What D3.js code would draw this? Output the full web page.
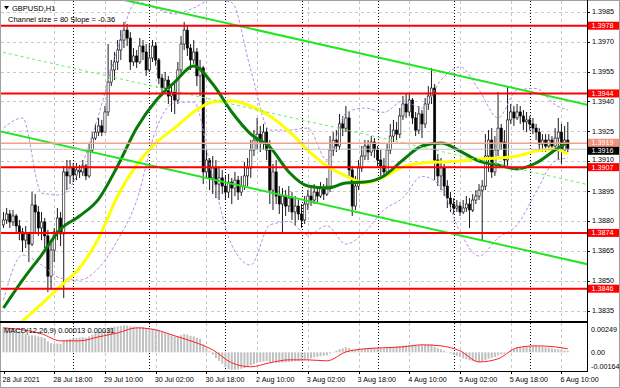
<!DOCTYPE html>
<html>
<head>
<meta charset="utf-8">
<script src="https://cdn.jsdelivr.net/npm/d3@7"></script>
<style>
body { margin: 0; background: #fff; }
svg { display: block; font-family: "Liberation Sans", Arial, sans-serif; }
</style>
</head>
<body>
<div id="chart"></div>
<script>
// GBPUSD H1 bars, 28 Jul 02:00 .. 6 Aug 12:00
var firstOpen = 1.38780;
var closes = [1.38805,1.38835,1.38795,1.38825,1.38775,1.38745,1.38704,1.38735,1.38684,1.38880,
	1.38845,1.38765,1.38795,1.38725,1.38523,1.38654,1.38745,1.38815,1.38735,1.39046,
	1.39026,1.39066,1.39031,1.39056,1.39046,1.39076,1.39026,1.39156,1.39216,1.39246,
	1.39277,1.39246,1.39347,1.39497,1.39558,1.39598,1.39658,1.39708,1.39758,1.39718,
	1.39598,1.39628,1.39598,1.39678,1.39648,1.39558,1.39618,1.39678,1.39608,1.39517,
	1.39467,1.39507,1.39427,1.39447,1.39407,1.39558,1.39688,1.39758,1.39668,1.39608,
	1.39648,1.39528,1.39568,1.39046,1.39106,1.39016,1.39066,1.38985,1.39016,1.38975,
	1.38945,1.38995,1.38965,1.39005,1.38945,1.38975,1.39026,1.39066,1.39156,1.39206,
	1.39236,1.39196,1.39246,1.39156,1.38955,1.39046,1.38925,1.38885,1.38925,1.38875,
	1.38915,1.38845,1.38875,1.38835,1.38805,1.38885,1.38925,1.38905,1.38945,1.38925,
	1.38965,1.38935,1.38975,1.39156,1.39206,1.39176,1.39287,1.39266,1.39317,1.39056,
	1.38875,1.38975,1.39066,1.39126,1.39176,1.39146,1.39196,1.39156,1.39106,1.39076,
	1.39046,1.39156,1.39226,1.39256,1.39236,1.39327,1.39387,1.39347,1.39407,1.39317,
	1.39256,1.39337,1.39287,1.39387,1.39427,1.39467,1.39106,1.39026,1.39066,1.38975,
	1.38915,1.38885,1.38865,1.38875,1.38845,1.38865,1.38885,1.38855,1.38905,1.38925,
	1.38955,1.38975,1.39126,1.39206,1.39046,1.39156,1.39266,1.39196,1.39106,1.39307,
	1.39347,1.39317,1.39347,1.39327,1.39297,1.39307,1.39287,1.39266,1.39246,1.39186,
	1.39206,1.39176,1.39206,1.39176,1.39216,1.39246,1.39156,1.39206,1.39161];
var highs = [1.38845,1.38865,1.38855,1.38855,1.38835,1.38805,1.38765,1.38775,1.38745,1.38945,
	1.38935,1.38875,1.38845,1.38815,1.38755,1.38704,1.38765,1.38865,1.38845,1.39076,
	1.39106,1.39106,1.39091,1.39091,1.39081,1.39106,1.39086,1.39186,1.39246,1.39287,
	1.39317,1.39307,1.39377,1.39688,1.39608,1.39648,1.39708,1.39758,1.39799,1.39789,
	1.39748,1.39668,1.39658,1.39718,1.39708,1.39688,1.39688,1.39708,1.39698,1.39618,
	1.39538,1.39548,1.39528,1.39487,1.39487,1.39598,1.39728,1.39799,1.39778,1.39688,
	1.39708,1.39668,1.39608,1.39578,1.39156,1.39116,1.39126,1.39106,1.39066,1.39056,
	1.39026,1.39036,1.39016,1.39046,1.39026,1.39026,1.39096,1.39116,1.39206,1.39256,
	1.39317,1.39277,1.39287,1.39266,1.39206,1.39086,1.39106,1.38975,1.38965,1.38955,
	1.38975,1.38945,1.38925,1.38905,1.38885,1.38925,1.38955,1.38965,1.38985,1.38975,
	1.38995,1.38985,1.39016,1.39226,1.39246,1.39256,1.39337,1.39327,1.39377,1.39347,
	1.39076,1.39026,1.39106,1.39176,1.39206,1.39206,1.39226,1.39216,1.39176,1.39156,
	1.39116,1.39186,1.39287,1.39307,1.39297,1.39367,1.39427,1.39437,1.39437,1.39417,
	1.39347,1.39377,1.39357,1.39417,1.39477,1.39568,1.39487,1.39136,1.39116,1.39086,
	1.39005,1.38945,1.38915,1.38905,1.38895,1.38905,1.38925,1.38915,1.38935,1.38955,
	1.38985,1.39005,1.39236,1.39256,1.39266,1.39226,1.39447,1.39287,1.39256,1.39477,
	1.39387,1.39377,1.39387,1.39377,1.39357,1.39347,1.39327,1.39317,1.39287,1.39266,
	1.39236,1.39236,1.39236,1.39226,1.39266,1.39317,1.39287,1.39277,1.39297];
var lows = [1.38765,1.38785,1.38765,1.38775,1.38745,1.38704,1.38644,1.38664,1.38594,1.38674,
	1.38745,1.38725,1.38704,1.38664,1.38443,1.38453,1.38594,1.38704,1.38674,1.38413,
	1.38955,1.38985,1.38995,1.39005,1.39016,1.39026,1.39005,1.39016,1.39146,1.39206,
	1.39226,1.39226,1.39266,1.39327,1.39477,1.39507,1.39558,1.39608,1.39668,1.39678,
	1.39558,1.39578,1.39568,1.39588,1.39608,1.39528,1.39548,1.39598,1.39578,1.39487,
	1.39427,1.39447,1.39387,1.39347,1.39337,1.39387,1.39538,1.39658,1.39628,1.39558,
	1.39588,1.39477,1.39427,1.38985,1.39016,1.38955,1.38935,1.38915,1.38905,1.38935,
	1.38905,1.38915,1.38885,1.38925,1.38905,1.38925,1.38955,1.38975,1.39016,1.39126,
	1.39156,1.39146,1.39156,1.39106,1.38885,1.38855,1.38885,1.38835,1.38745,1.38825,
	1.38845,1.38805,1.38775,1.38805,1.38765,1.38785,1.38855,1.38875,1.38885,1.38895,
	1.38915,1.38905,1.38925,1.38945,1.39126,1.39146,1.39156,1.39226,1.39246,1.39026,
	1.38825,1.38855,1.38955,1.39046,1.39106,1.39106,1.39126,1.39116,1.39066,1.39026,
	1.39016,1.39026,1.39136,1.39196,1.39206,1.39216,1.39307,1.39317,1.39327,1.39287,
	1.39226,1.39236,1.39216,1.39266,1.39357,1.39387,1.39005,1.38975,1.38955,1.38925,
	1.38865,1.38845,1.38835,1.38845,1.38825,1.38835,1.38845,1.38765,1.38845,1.38885,
	1.38905,1.38704,1.38955,1.39046,1.39016,1.39026,1.39126,1.39156,1.39066,1.39076,
	1.39287,1.39277,1.39307,1.39287,1.39256,1.39246,1.39256,1.39236,1.39206,1.39156,
	1.39146,1.39146,1.39156,1.39136,1.39156,1.39106,1.39086,1.39146,1.39146];

// indicator curves read every 6 bars (last point at bar 178)
var sampleIdx = [0,6,12,18,24,30,36,42,48,54,60,66,72,78,84,90,96,102,108,114,120,126,132,138,144,150,156,162,168,174,178];
var maGreen = [1.38363,1.38503,1.38629,1.38759,1.38825,1.38910,1.39076,1.39266,1.39402,1.39497,
	1.39578,1.39487,1.39347,1.39236,1.39171,1.39046,1.38975,1.38965,1.38990,1.38995,
	1.39026,1.39106,1.39176,1.39191,1.39151,1.39101,1.39081,1.39061,1.39091,1.39156,1.39196];
var maYellow = [1.38227,1.38298,1.38383,1.38473,1.38564,1.38714,1.38925,1.39081,1.39191,1.39266,
	1.39347,1.39397,1.39402,1.39377,1.39327,1.39251,1.39156,1.39076,1.39026,1.38990,
	1.39021,1.39071,1.39091,1.39096,1.39101,1.39111,1.39116,1.39126,1.39151,1.39161,1.39136];
// Bollinger bands (purple dashed)
var bandUpper = [1.39266,1.39317,1.38940,1.38930,1.39056,1.39332,1.39668,1.39899,1.39868,1.39839,
	1.39869,1.39912,1.39896,1.39558,1.39256,1.39256,1.39266,1.39106,1.39342,1.39367,
	1.39345,1.39402,1.39367,1.39507,1.39573,1.39457,1.39317,1.39457,1.39465,1.39383,1.39357];
var bandLower = [1.38403,1.38629,1.38579,1.38513,1.38503,1.38564,1.38704,1.38902,1.39254,1.39394,
	1.39397,1.39020,1.38679,1.38579,1.38780,1.38797,1.38729,1.38776,1.38684,1.38745,
	1.38855,1.38916,1.39024,1.38970,1.38745,1.38624,1.38715,1.38780,1.38945,1.39101,1.39116];

// MACD(12,26,9) main value per bar, in units of 0.00001
var macdMain = [222,218,212,205,196,185,172,160,148,150,
	148,140,135,125,95,80,75,78,72,100,
	112,120,122,125,130,132,128,140,155,168,
	180,185,195,210,218,225,228,232,236,235,
	228,225,222,224,222,212,208,206,200,190,
	178,172,160,150,138,140,150,160,155,145,
	140,128,120,70,40,10,-20,-50,-75,-100,
	-130,-150,-155,-152,-150,-145,-138,-128,-115,-102,
	-92,-86,-80,-78,-88,-86,-90,-92,-90,-88,
	-84,-82,-78,-76,-74,-66,-58,-52,-46,-40,
	-34,-30,-26,-10,4,14,28,36,44,38,
	24,20,22,28,34,36,40,40,38,36,
	34,38,44,48,52,56,60,62,64,62,
	60,62,62,64,68,70,50,36,26,14,
	2,-10,-22,-32,-42,-52,-62,-70,-78,-82,
	-84,-82,-68,-56,-50,-40,-26,-18,-14,2,
	16,26,36,44,48,52,54,56,56,52,
	48,44,40,36,30,26,22,16,13];
var macdSignal = [215,198,163,101,101,136,171,215,198,145,
	92,22,-92,-127,-92,-66,-66,-75,4,31,
	40,48,66,57,13,-84,-57,40,57,48,31];

var priceTicks = [1.3985,1.3970,1.3955,1.3940,1.3925,1.3910,1.3895,1.3880,1.3865,1.3850,1.3835];
var levels = [1.3978,1.3944,1.3907,1.3874,1.3846];
var askLine = 1.3919, bidLine = 1.3916;
var channelStart = 1.39646, channelSlope = -0.36, channelSize = 80;   // pips
var timeTickIdx = [0,16,32,48,64,80,96,112,128,144,160,176];
var timeLabels = ["28 Jul 2021","28 Jul 18:00","29 Jul 10:00","30 Jul 02:00","30 Jul 18:00","2 Aug 10:00",
	"3 Aug 02:00","3 Aug 18:00","4 Aug 10:00","5 Aug 02:00","5 Aug 18:00","6 Aug 10:00"];
var dayStartIdx = [22,46,70,94,118,142,166];

var width = 620, height = 388;
var plotLeft = 1, plotRight = 587, plotTop = 1, plotBottom = 321;
var macdTop = 323, macdBottom = 371;

var svg = d3.select("#chart").append("svg")
	.attr("width", width)
	.attr("height", height);

var x = d3.scaleLinear().domain([0, 178]).range([3.5, 567.8]);
var y = d3.scaleLinear().domain([1.3846, 1.3978]).range([288.7, 25.7]);
var ym = d3.scaleLinear().domain([-0.00164, 0.00249]).range([macdBottom, macdTop + 1]);

var defs = svg.append("defs");
defs.append("clipPath").attr("id", "clipMain").append("rect")
	.attr("x", plotLeft).attr("y", plotTop).attr("width", plotRight - plotLeft).attr("height", plotBottom - plotTop);
defs.append("clipPath").attr("id", "clipMacd").append("rect")
	.attr("x", plotLeft).attr("y", macdTop).attr("width", plotRight - plotLeft).attr("height", macdBottom - macdTop);

var main = svg.append("g").attr("clip-path", "url(#clipMain)");
var sub = svg.append("g").attr("clip-path", "url(#clipMacd)");

// grid
main.selectAll(".hgrid").data(priceTicks).enter().append("line")
	.attr("x1", plotLeft).attr("x2", plotRight)
	.attr("y1", function(d) { return Math.round(y(d)) + 0.5; })
	.attr("y2", function(d) { return Math.round(y(d)) + 0.5; })
	.attr("stroke", "#c8c8c8").attr("stroke-dasharray", "3,3");

[main, sub].forEach(function(g, k) {
	var top = k == 0 ? plotTop : macdTop, bottom = k == 0 ? plotBottom : macdBottom;
	g.selectAll(".vgrid").data(timeTickIdx.slice(1)).enter().append("line")
		.attr("x1", function(d) { return Math.round(x(d)) + 0.5; })
		.attr("x2", function(d) { return Math.round(x(d)) + 0.5; })
		.attr("y1", top).attr("y2", bottom)
		.attr("stroke", "#c8c8c8").attr("stroke-dasharray", "3,3");
	g.selectAll(".sep").data(dayStartIdx).enter().append("line")
		.attr("x1", function(d) { return Math.round(x(d)) + 0.5; })
		.attr("x2", function(d) { return Math.round(x(d)) + 0.5; })
		.attr("y1", top).attr("y2", bottom)
		.attr("stroke", "#000").attr("stroke-dasharray", "1,2");
});

// candles
var bars = closes.map(function(c, i) {
	var o = i == 0 ? firstOpen : closes[i - 1];
	return { i: i, o: o, c: c, h: Math.max(highs[i], o, c), l: Math.min(lows[i], o, c) };
});

main.selectAll(".wick").data(bars).enter().append("line")
	.attr("x1", function(d) { return x(d.i); })
	.attr("x2", function(d) { return x(d.i); })
	.attr("y1", function(d) { return y(d.h); })
	.attr("y2", function(d) { return y(d.l); })
	.attr("stroke", "#000").attr("stroke-width", 0.9);

main.selectAll(".body").data(bars).enter().append("rect")
	.attr("x", function(d) { return x(d.i) - 1.1; })
	.attr("y", function(d) { return y(Math.max(d.o, d.c)); })
	.attr("width", 2.2)
	.attr("height", function(d) { return Math.max(1, Math.abs(y(d.o) - y(d.c))); })
	.attr("fill", function(d) { return d.c >= d.o ? "#fff" : "#000"; })
	.attr("stroke", "#000").attr("stroke-width", 0.6);

// indicators
function curve(values) {
	return d3.line()
		.x(function(d, k) { return x(sampleIdx[k]); })
		.y(function(d) { return y(d); })
		.curve(d3.curveMonotoneX)(values);
}
[bandUpper, bandLower].forEach(function(b) {
	main.append("path").attr("d", curve(b))
		.attr("fill", "none").attr("stroke", "#b98ee0").attr("stroke-width", 1)
		.attr("stroke-dasharray", "3,2");
});
main.append("path").attr("d", curve(maYellow))
	.attr("fill", "none").attr("stroke", "#ffff00").attr("stroke-width", 3);
main.append("path").attr("d", curve(maGreen))
	.attr("fill", "none").attr("stroke", "#087a08").attr("stroke-width", 3);

// regression channel
var chan = [-1, 0, 1];
main.selectAll(".chan").data(chan).enter().append("line")
	.attr("x1", x(-2)).attr("x2", x(190))
	.attr("y1", function(d) { return y(channelStart + (-2 * channelSlope + d * channelSize / 2) / 10000); })
	.attr("y2", function(d) { return y(channelStart + (190 * channelSlope + d * channelSize / 2) / 10000); })
	.attr("stroke", function(d) { return d == 0 ? "#66ee66" : "#22e622"; })
	.attr("stroke-width", function(d) { return d == 0 ? 1 : 2; })
	.attr("stroke-dasharray", function(d) { return d == 0 ? "3,3" : null; });

// horizontal levels
main.append("line").attr("x1", plotLeft).attr("x2", plotRight)
	.attr("y1", y(bidLine)).attr("y2", y(bidLine)).attr("stroke", "#c0c0c0");
main.append("line").attr("x1", plotLeft).attr("x2", plotRight)
	.attr("y1", y(askLine)).attr("y2", y(askLine)).attr("stroke", "#f4a08c").attr("stroke-width", 1.5);
main.selectAll(".level").data(levels).enter().append("line")
	.attr("x1", plotLeft).attr("x2", plotRight)
	.attr("y1", function(d) { return y(d); }).attr("y2", function(d) { return y(d); })
	.attr("stroke", "#ff0000").attr("stroke-width", 2);

// MACD
sub.selectAll(".hist").data(macdMain).enter().append("rect")
	.attr("x", function(d, i) { return x(i) - 1; })
	.attr("y", function(d) { return ym(Math.max(0, d / 100000)); })
	.attr("width", 2)
	.attr("height", function(d) { return Math.abs(ym(d / 100000) - ym(0)); })
	.attr("fill", "#c0c0c0");
sub.append("path")
	.attr("d", d3.line()
		.x(function(d, k) { return x(sampleIdx[k]); })
		.y(function(d) { return ym(d / 100000); })
		.curve(d3.curveMonotoneX)(macdSignal))
	.attr("fill", "none").attr("stroke", "#ff2020").attr("stroke-width", 1);

// frames
svg.append("rect").attr("x", 0.5).attr("y", 0.5).attr("width", width - 1).attr("height", height - 1)
	.attr("fill", "none").attr("stroke", "#a0a0a0");
svg.append("line").attr("x1", plotRight + 0.5).attr("x2", plotRight + 0.5).attr("y1", 0).attr("y2", macdBottom)
	.attr("stroke", "#000");
svg.append("line").attr("x1", 0).attr("x2", plotRight).attr("y1", plotBottom + 0.5).attr("y2", plotBottom + 0.5)
	.attr("stroke", "#000");
svg.append("line").attr("x1", 0).attr("x2", plotRight).attr("y1", macdTop - 0.5).attr("y2", macdTop - 0.5)
	.attr("stroke", "#000");
svg.append("line").attr("x1", 0).attr("x2", plotRight + 1).attr("y1", macdBottom + 0.5).attr("y2", macdBottom + 0.5)
	.attr("stroke", "#000");

// price axis; labels sitting on a level box move just above it
var boxes = levels.concat([askLine, bidLine]);
function labelY(v) {
	var yy = y(v);
	boxes.forEach(function(b) {
		var by = y(b);
		if (Math.abs(yy - by) < 7.5 && yy < by) yy = by - 7.5;
	});
	return yy;
}
var axisG = svg.append("g").attr("font-size", "7.2px");
axisG.selectAll(".ptick").data(priceTicks).enter().append("line")
	.attr("x1", plotRight).attr("x2", plotRight + 3)
	.attr("y1", function(d) { return Math.round(y(d)) + 0.5; })
	.attr("y2", function(d) { return Math.round(y(d)) + 0.5; })
	.attr("stroke", "#000");
axisG.selectAll(".plabel").data(priceTicks).enter().append("text")
	.attr("x", 592).attr("y", function(d) { return labelY(d); }).attr("dy", "0.35em")
	.text(function(d) { return d.toFixed(4); });

function priceBox(v, fill, cy) {
	axisG.append("rect").attr("x", 588).attr("y", cy - 4).attr("width", 31).attr("height", 8).attr("fill", fill);
	axisG.append("text").attr("x", 591.5).attr("y", cy).attr("dy", "0.35em").attr("fill", "#fff")
		.text(v.toFixed(4));
}
levels.forEach(function(v) { priceBox(v, "#ff0000", y(v)); });
// ask and bid sit only 6px apart: stack the two boxes
priceBox(askLine, "#f4907a", y(askLine) - 0.5);
priceBox(bidLine, "#000", y(askLine) + 7.5);

// MACD axis
var macdLabels = [["0.00249", macdTop + 6], ["0.00", ym(0)], ["-0.00164", macdBottom - 4.5]];
axisG.selectAll(".mlabel").data(macdLabels).enter().append("text")
	.attr("x", 591).attr("y", function(d) { return d[1]; }).attr("dy", "0.35em")
	.text(function(d) { return d[0]; });

// time axis
axisG.selectAll(".tlabel").data(timeTickIdx).enter().append("text")
	.attr("x", function(d) { return x(d) - 1; }).attr("y", 381.5)
	.text(function(d, i) { return timeLabels[i]; });
axisG.selectAll(".ttick").data(timeTickIdx).enter().append("line")
	.attr("x1", function(d) { return Math.round(x(d)) + 0.5; })
	.attr("x2", function(d) { return Math.round(x(d)) + 0.5; })
	.attr("y1", macdBottom).attr("y2", macdBottom + 3).attr("stroke", "#000");

// captions
svg.append("path").attr("d", "M4,6 L9,6 L6.5,9.5 Z").attr("fill", "#000");
svg.append("text").attr("x", 12).attr("y", 10.5).attr("font-size", "7.5px").text("GBPUSD,H1");
svg.append("text").attr("x", 8).attr("y", 21.5).attr("font-size", "7.5px")
	.text("Channel size = " + channelSize + " Slope = " + channelSlope.toFixed(2));
svg.append("text").attr("x", 4).attr("y", 333).attr("font-size", "7.5px")
	.text("MACD(12,26,9) " + (macdMain[macdMain.length - 1] / 100000).toFixed(5) + " " + (macdSignal[macdSignal.length - 1] / 100000).toFixed(5));
</script>
</body>
</html>
